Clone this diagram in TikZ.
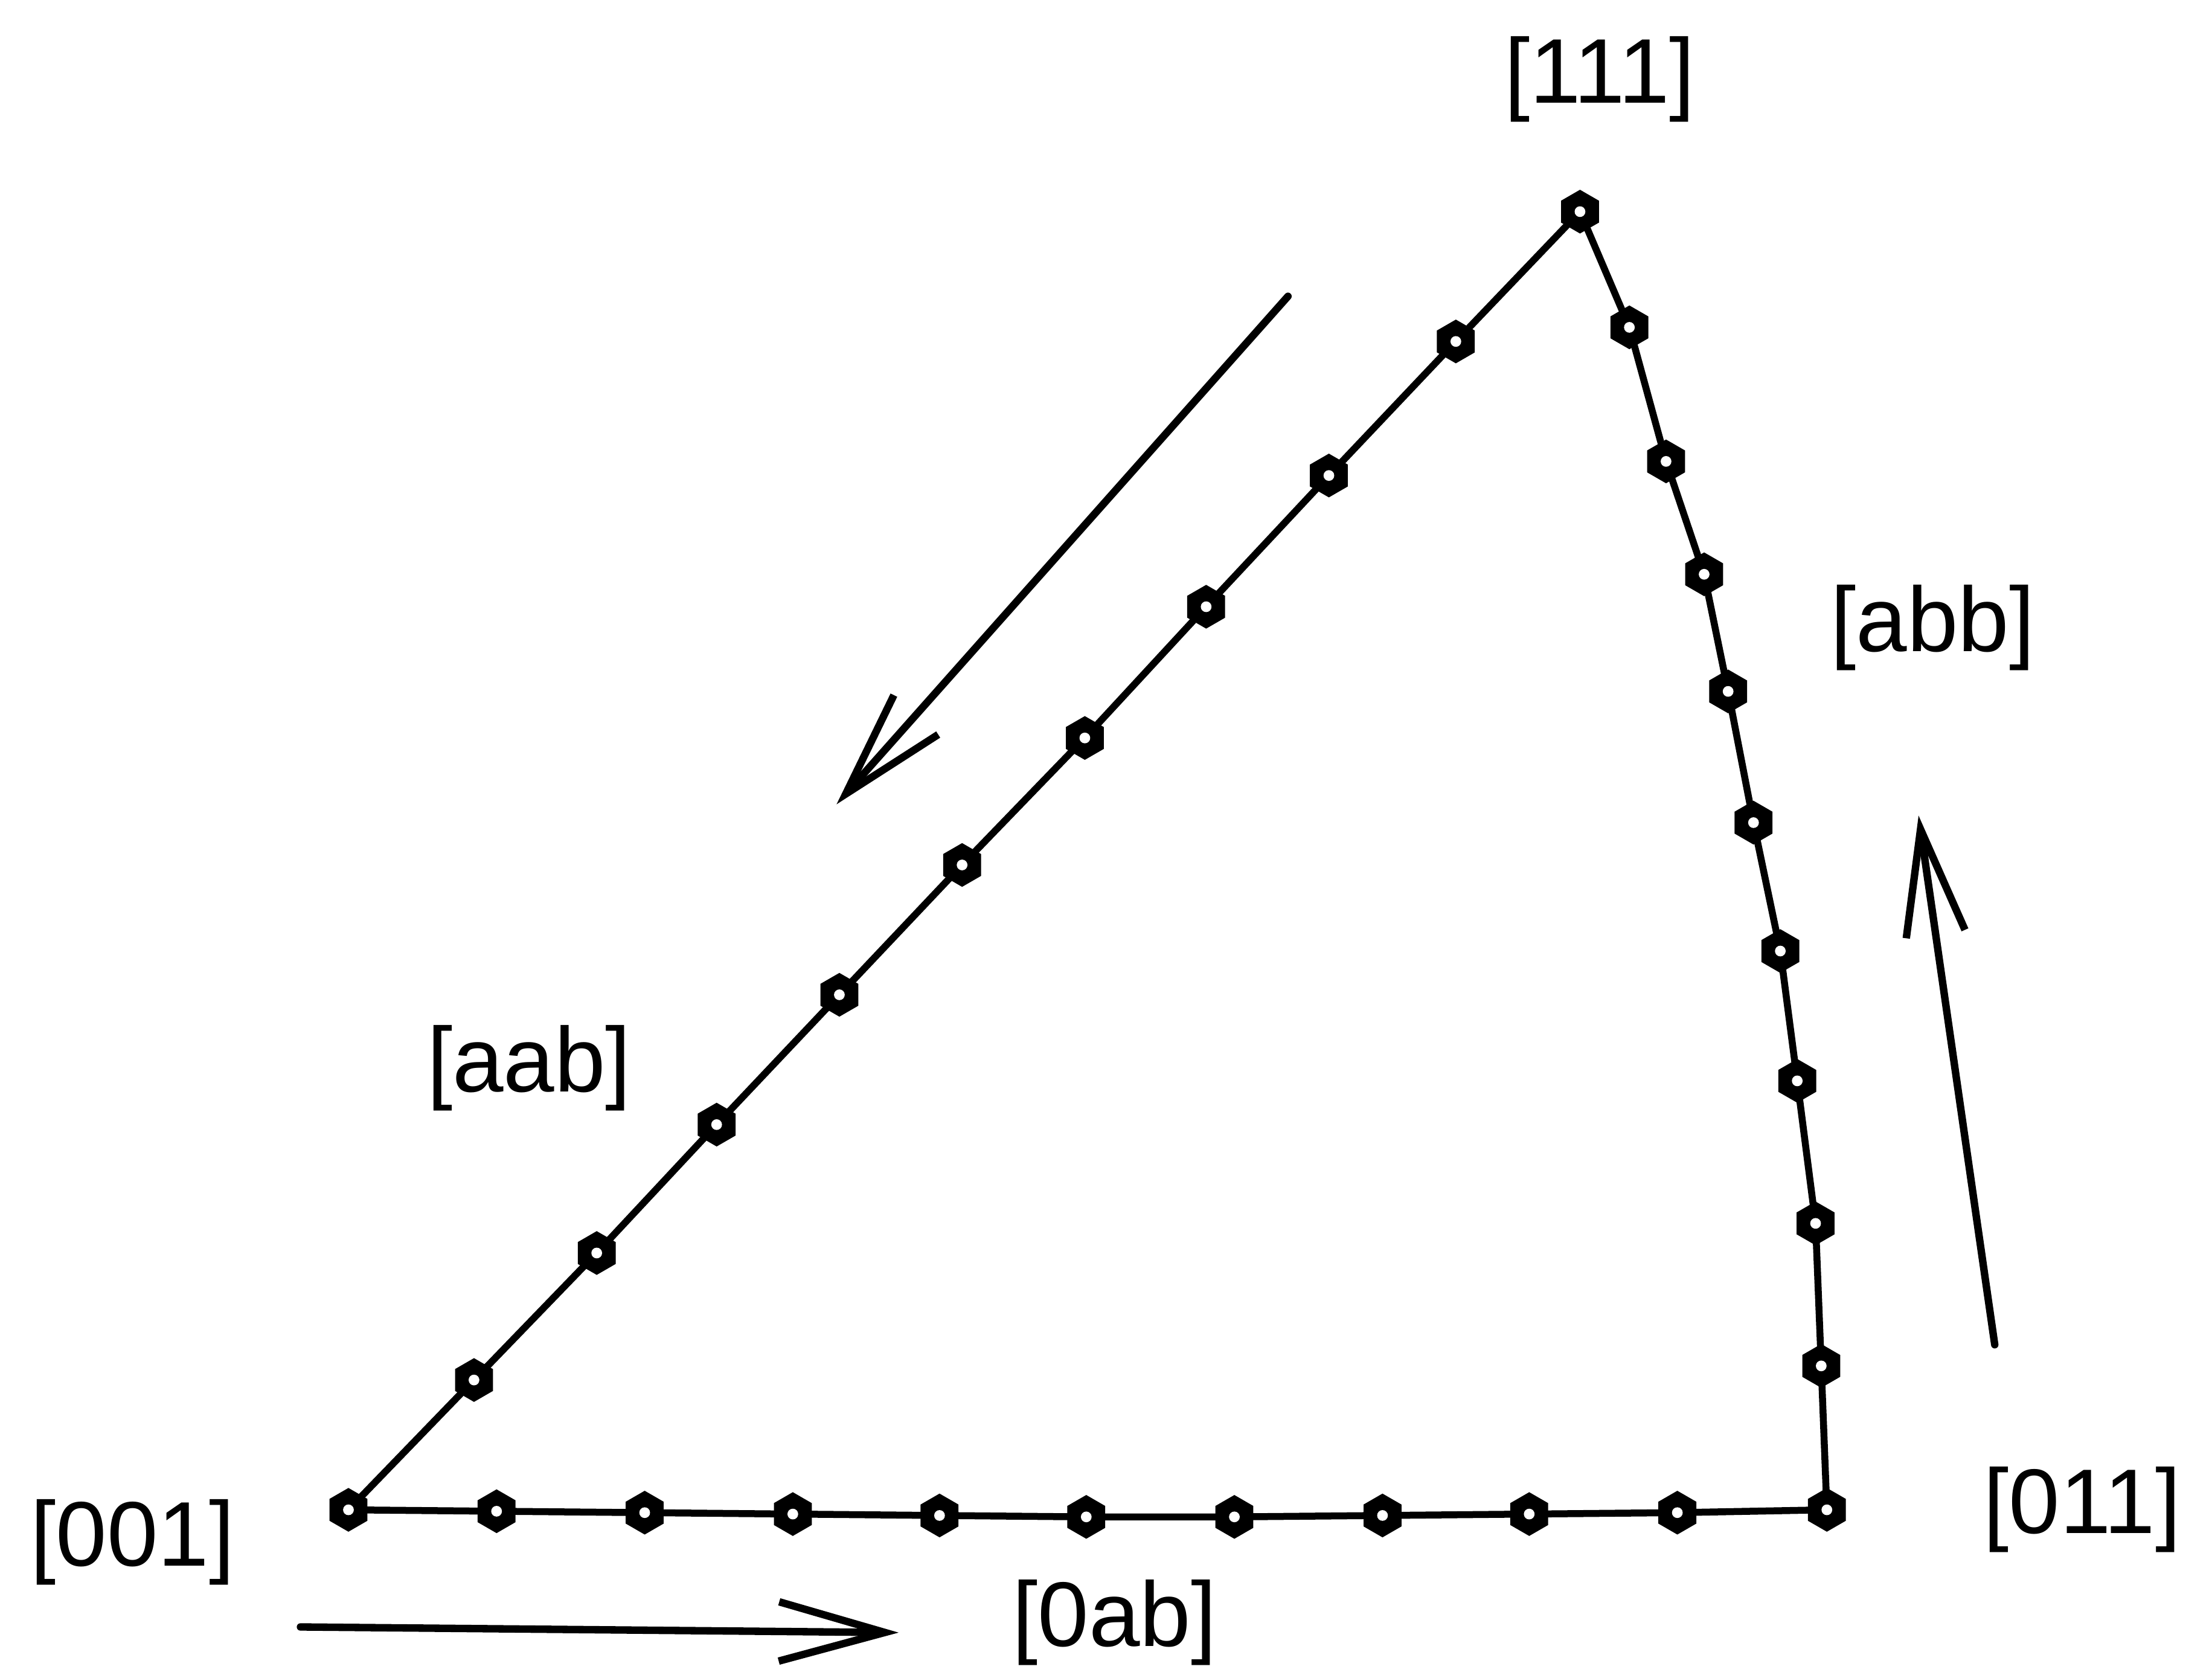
\documentclass[tikz,border=0pt]{standalone}
\usepackage{fontspec}
\setmainfont{Liberation Sans}
\usetikzlibrary{arrows.meta,shapes.geometric}
\tikzset{
  hexdot/.style={regular polygon, regular polygon sides=6, shape border rotate=30,
    fill=black, inner sep=0pt, minimum size=0.31cm},
  edge/.style={line width=1.4pt},
  lbl/.style={font=\fontsize{18.5}{22}\selectfont, inner sep=0pt},
  dirarrow/.style={line width=1.5pt, -{Straight Barb[length=0.75cm, width=0.42cm]}}
}
\begin{document}
\begin{tikzpicture}[x=0.01cm,y=-0.01cm,line cap=round,line join=round]
  \useasboundingbox (0,0) rectangle (1568,1189);
  % [001] -> [111]
  \foreach \i/\x/\y in {0/247/1070,1/336/978,2/423/888,3/508/797,4/595/705,5/682/613,
      6/769/523,7/855/430,8/942/337,9/1032/242,10/1120/150}
    \coordinate (h\i) at (\x,\y);
  % [001] -> [011]
  \foreach \i/\x/\y in {1/352/1071,2/457/1072,3/562/1073,4/666/1074,5/770/1075,
      6/875/1075,7/980/1074,8/1084/1073,9/1189/1072,10/1295/1070}
    \coordinate (b\i) at (\x,\y);
  \coordinate (b0) at (h0);
  % [111] -> [011]
  \foreach \i/\x/\y in {1/1155/232,2/1181/327,3/1208/407,4/1225/490,5/1243/583,
      6/1262/674,7/1274/766,8/1287/867,9/1291/968}
    \coordinate (r\i) at (\x,\y);
  \coordinate (r0) at (h10);
  \coordinate (r10) at (b10);
  \draw[edge] (h0) foreach \i in {1,...,10} {-- (h\i)};
  \draw[edge] (b0) foreach \i in {1,...,10} {-- (b\i)};
  \draw[edge] (r0) foreach \i in {1,...,10} {-- (r\i)};
  \foreach \i in {0,...,10} {
    \node[hexdot] (dh\i) at (h\i) {};
    \fill[white] (h\i) circle (0.038cm);
  }
  \foreach \i in {1,...,10} {
    \node[hexdot] (db\i) at (b\i) {};
    \fill[white] (b\i) circle (0.038cm);
  }
  \foreach \i in {1,...,9} {
    \node[hexdot] (dr\i) at (r\i) {};
    \fill[white] (r\i) circle (0.038cm);
  }
  % labels
  \node[lbl] (l111) at (1134,56) {[111]};
  \node[lbl] (labb) at (1370,445) {[abb]};
  \node[lbl] (laab) at (375,757) {[aab]};
  \node[lbl] (l001) at (94,1093) {[001]};
  \node[lbl] (l011) at (1476,1070) {[011]};
  \node[lbl] (l0ab) at (790,1150) {[0ab]};
  % direction arrows
  \coordinate (ta) at (913,210);   \coordinate (pa) at (593,570);
  \coordinate (tb) at (213,1153);  \coordinate (pb) at (637,1157);
  \coordinate (tc) at (1414,953);  \coordinate (pc) at (1360,578);
  \draw[dirarrow] (ta) -- (pa);
  \draw[dirarrow] (tb) -- (pb);
  \draw[dirarrow] (tc) -- (pc);
\end{tikzpicture}
\end{document}
